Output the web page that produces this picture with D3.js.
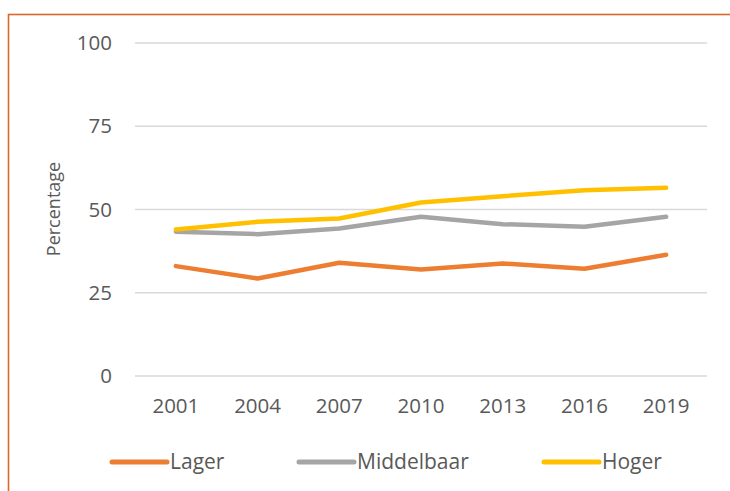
<!DOCTYPE html>
<html>
<head>
<meta charset="utf-8">
<script src="https://cdn.jsdelivr.net/npm/d3@7"></script>
<style>
  html, body { margin: 0; padding: 0; background: #fff; }
  svg { display: block; font-family: "Open Sans", sans-serif; }
</style>
</head>
<body>
<svg id="chart" width="730" height="491"></svg>
<script>
// data
const years = ["2001", "2004", "2007", "2010", "2013", "2016", "2019"];
const lager = [33.0, 29.3, 34.0, 32.0, 33.8, 32.2, 36.4];
const middelbaar = [43.3, 42.6, 44.3, 47.8, 45.6, 44.8, 47.8];
const hoger = [44.0, 46.3, 47.3, 52.1, 54.0, 55.8, 56.5];
const yTicks = [0, 25, 50, 75, 100];

const series = [
    { name: "Lager", values: lager, color: "#ED7D31" },
    { name: "Middelbaar", values: middelbaar, color: "#A5A5A5" },
    { name: "Hoger", values: hoger, color: "#FFC000" }
];

const svg = d3.select("#chart");
const textColor = "#595959";

// orange frame round the chart
svg.append("rect")
    .attr("x", 8.5)
    .attr("y", 14.5)
    .attr("width", 740)
    .attr("height", 500)
    .attr("fill", "none")
    .attr("stroke", "#D9692B")
    .attr("stroke-width", 1.6);

const plot = { left: 135, right: 707, top: 43, bottom: 376 };

const x = d3.scaleBand()
    .domain(years)
    .range([plot.left, plot.right]);

const y = d3.scaleLinear()
    .domain([0, 100])
    .range([plot.bottom, plot.top]);

// gridlines
svg.append("g")
    .selectAll("line")
    .data(yTicks)
    .join("line")
    .attr("x1", plot.left)
    .attr("x2", plot.right)
    .attr("y1", d => y(d))
    .attr("y2", d => y(d))
    .attr("stroke", "#D9D9D9")
    .attr("stroke-width", 1.3);

// y axis labels
const yAxis = svg.append("g")
    .attr("transform", `translate(${plot.left - 23},0)`)
    .call(d3.axisLeft(y).tickValues(yTicks).tickSize(0).tickPadding(0))
    .call(g => g.select(".domain").remove());
yAxis.selectAll("text")
    .attr("fill", textColor)
    .attr("font-size", "20.5px")
    .attr("font-family", "'Open Sans', sans-serif");

// x axis labels
const xAxis = svg.append("g")
    .attr("transform", `translate(0,${plot.bottom + 22})`)
    .call(d3.axisBottom(x).tickSize(0).tickPadding(0))
    .call(g => g.select(".domain").remove());
xAxis.selectAll("text")
    .attr("fill", textColor)
    .attr("font-size", "20.5px")
    .attr("font-family", "'Open Sans', sans-serif");

// axis title
svg.append("text")
    .attr("transform", "translate(60,209) rotate(-90)")
    .attr("text-anchor", "middle")
    .attr("fill", textColor)
    .attr("font-size", "18px")
    .text("Percentage");

// lines
const line = d3.line()
    .x((d, i) => x(years[i]) + x.bandwidth() / 2)
    .y(d => y(d));

svg.append("g")
    .selectAll("path")
    .data(series)
    .join("path")
    .attr("d", d => line(d.values))
    .attr("fill", "none")
    .attr("stroke", d => d.color)
    .attr("stroke-width", 4.5)
    .attr("stroke-linejoin", "round")
    .attr("stroke-linecap", "round");

// legend
const legendX = [112, 299, 544];
const legend = svg.append("g")
    .selectAll("g")
    .data(series)
    .join("g")
    .attr("transform", (d, i) => `translate(${legendX[i]},462)`);

legend.append("line")
    .attr("x1", 0)
    .attr("x2", 55)
    .attr("stroke", d => d.color)
    .attr("stroke-width", 5)
    .attr("stroke-linecap", "round");

legend.append("text")
    .attr("x", 58)
    .attr("dy", "0.35em")
    .attr("fill", textColor)
    .attr("font-size", "21px")
    .text(d => d.name);
</script>
</body>
</html>
